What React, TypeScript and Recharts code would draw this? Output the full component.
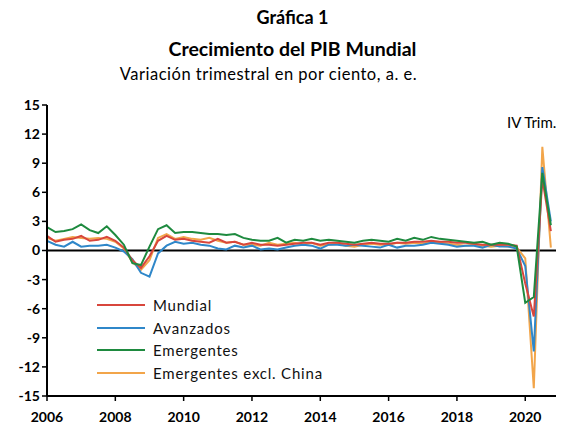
import {
  LineChart,
  Line,
  XAxis,
  YAxis,
  ReferenceLine,
} from "recharts";

// quarters 2006 Q1 .. 2020 Q4
const firstYear = 2006;
const yearTicks = [0, 8, 16, 24, 32, 40, 48, 56];
const yTicks = [-15, -12, -9, -6, -3, 0, 3, 6, 9, 12, 15];

const mundial = [
  1.5, 0.9, 1.1, 1.2, 1.5, 1.0, 1.1, 1.4, 1.0, 0.3, -1.0, -1.8, -0.6, 1.0, 1.5, 1.1,
  1.2, 1.0, 0.9, 0.8, 1.2, 0.8, 0.9, 0.6, 0.8, 0.6, 0.6, 0.5, 0.6, 0.7, 0.8, 0.8,
  0.6, 0.8, 0.8, 0.7, 0.6, 0.7, 0.8, 0.7, 0.7, 0.8, 0.8, 0.9, 0.9, 1.0, 0.9, 0.9,
  0.8, 0.8, 0.7, 0.6, 0.6, 0.6, 0.6, 0.5, -3.4, -6.8, 7.4, 2.0,
];
const avanzados = [
  1.0, 0.6, 0.4, 0.9, 0.4, 0.5, 0.5, 0.6, 0.3, -0.1, -0.9, -2.3, -2.7, -0.3, 0.5, 0.9,
  0.7, 0.8, 0.6, 0.5, 0.2, 0.1, 0.5, 0.3, 0.5, 0.1, 0.2, 0.1, 0.3, 0.5, 0.6, 0.5,
  0.2, 0.6, 0.6, 0.5, 0.6, 0.5, 0.4, 0.3, 0.6, 0.3, 0.5, 0.5, 0.6, 0.8, 0.7, 0.6,
  0.4, 0.5, 0.5, 0.3, 0.6, 0.4, 0.4, 0.2, -1.6, -10.4, 8.6, 3.0,
];
const emergentes = [
  2.4, 1.9, 2.0, 2.2, 2.7, 2.1, 1.8, 2.5, 1.6, 0.6, -1.3, -1.5, 0.4, 2.2, 2.6, 1.8,
  1.9, 1.9, 1.8, 1.7, 1.7, 1.6, 1.7, 1.3, 1.1, 1.0, 1.0, 1.3, 0.8, 1.1, 1.0, 1.2,
  1.0, 1.1, 1.0, 0.9, 0.8, 1.0, 1.1, 1.0, 0.9, 1.2, 1.0, 1.3, 1.1, 1.4, 1.2, 1.1,
  1.0, 0.9, 0.8, 0.9, 0.6, 0.8, 0.7, 0.4, -5.4, -4.8, 8.0, 2.6,
];
const emergentesExChina = [
  1.3, 1.0, 1.2, 1.4, 1.3, 1.2, 1.3, 1.2, 0.9, 0.2, -1.2, -2.0, -1.0, 1.3, 1.7, 1.2,
  1.4, 1.2, 1.1, 1.3, 1.0, 0.8, 0.9, 0.6, 0.6, 0.5, 0.8, 0.6, 0.7, 0.8, 0.6, 0.8,
  0.5, 0.6, 0.7, 0.5, 0.4, 0.6, 0.7, 0.6, 0.6, 0.8, 0.7, 0.8, 0.7, 0.9, 0.8, 0.7,
  0.6, 0.5, 0.6, 0.5, 0.4, 0.5, 0.4, 0.3, -0.8, -14.2, 10.7, 0.3,
];

const series = [
  { key: "mundial", name: "Mundial", color: "#d8463c" },
  { key: "avanzados", name: "Avanzados", color: "#2f87c9" },
  { key: "emergentes", name: "Emergentes", color: "#1e8a3f" },
  { key: "exChina", name: "Emergentes excl. China", color: "#f2a54a" },
];

const data = mundial.map((v, i) => ({
  i,
  mundial: v,
  avanzados: avanzados[i],
  emergentes: emergentes[i],
  exChina: emergentesExChina[i],
}));

const font = "Lato, 'Open Sans', sans-serif";

function LegendBox() {
  return (
    <div style={{ fontFamily: font, fontSize: 15, color: "#111", letterSpacing: 0.8 }}>
      {series.map((s) => (
        <div key={s.key} style={{ display: "flex", alignItems: "center", height: 22.5 }}>
          <span
            style={{
              display: "inline-block",
              width: 48,
              height: 2,
              background: s.color,
              marginRight: 8,
            }}
          />
          {s.name}
        </div>
      ))}
    </div>
  );
}

export default function App() {
  return (
    <div
      style={{
        position: "absolute",
        left: 0,
        top: 0,
        width: 561,
        height: 433,
        background: "#fff",
        fontFamily: font,
      }}
    >
      <div style={{ position: "absolute", left: 12, width: 561, top: 6, textAlign: "center", fontSize: 18, fontWeight: 700 }}>
        Gráfica 1
      </div>
      <div style={{ position: "absolute", left: 12, width: 561, top: 37, textAlign: "center", fontSize: 19.5, fontWeight: 700 }}>
        Crecimiento del PIB Mundial
      </div>
      <div style={{ position: "absolute", left: -12, width: 561, top: 64, textAlign: "center", fontSize: 16.5, letterSpacing: 0.5 }}>
        Variación trimestral en por ciento, a. e.
      </div>
      <div style={{ position: "absolute", left: 507, top: 113, fontSize: 15 }}>IV Trim.</div>
      <div style={{ position: "absolute", left: 0, top: 0 }}>
        <LineChart
          width={561}
          height={433}
          data={data}
          margin={{ top: 105, right: 5, left: 7, bottom: 7 }}
        >
          <XAxis
            dataKey="i"
            type="number"
            domain={[0, 59.6]}
            ticks={yearTicks}
            tickFormatter={(v) => String(firstYear + v / 4)}
            axisLine={{ stroke: "#000", strokeWidth: 2 }}
            tickLine={{ stroke: "#000", strokeWidth: 1.5 }}
            tickSize={5}
            tickMargin={11}
            height={30}
            tick={{ fill: "#000", fontSize: 14, fontWeight: 700, fontFamily: font }}
          />
          <YAxis
            domain={[-15, 15]}
            ticks={yTicks}
            interval={0}
            width={40}
            axisLine={{ stroke: "#000", strokeWidth: 2 }}
            tickLine={{ stroke: "#000", strokeWidth: 1.5 }}
            tickSize={5}
            tick={{ fill: "#000", fontSize: 14, fontWeight: 700, fontFamily: font }}
          />
          <ReferenceLine y={0} stroke="#000" strokeWidth={2} />
          {[series[3], series[1], series[0], series[2]].map((s) => (
            <Line
              key={s.key}
              type="linear"
              dataKey={s.key}
              name={s.name}
              stroke={s.color}
              strokeWidth={2}
              dot={false}
              isAnimationActive={false}
            />
          ))}
        </LineChart>
      </div>
      <div style={{ position: "absolute", left: 97, top: 294 }}>
        <LegendBox />
      </div>
    </div>
  );
}
